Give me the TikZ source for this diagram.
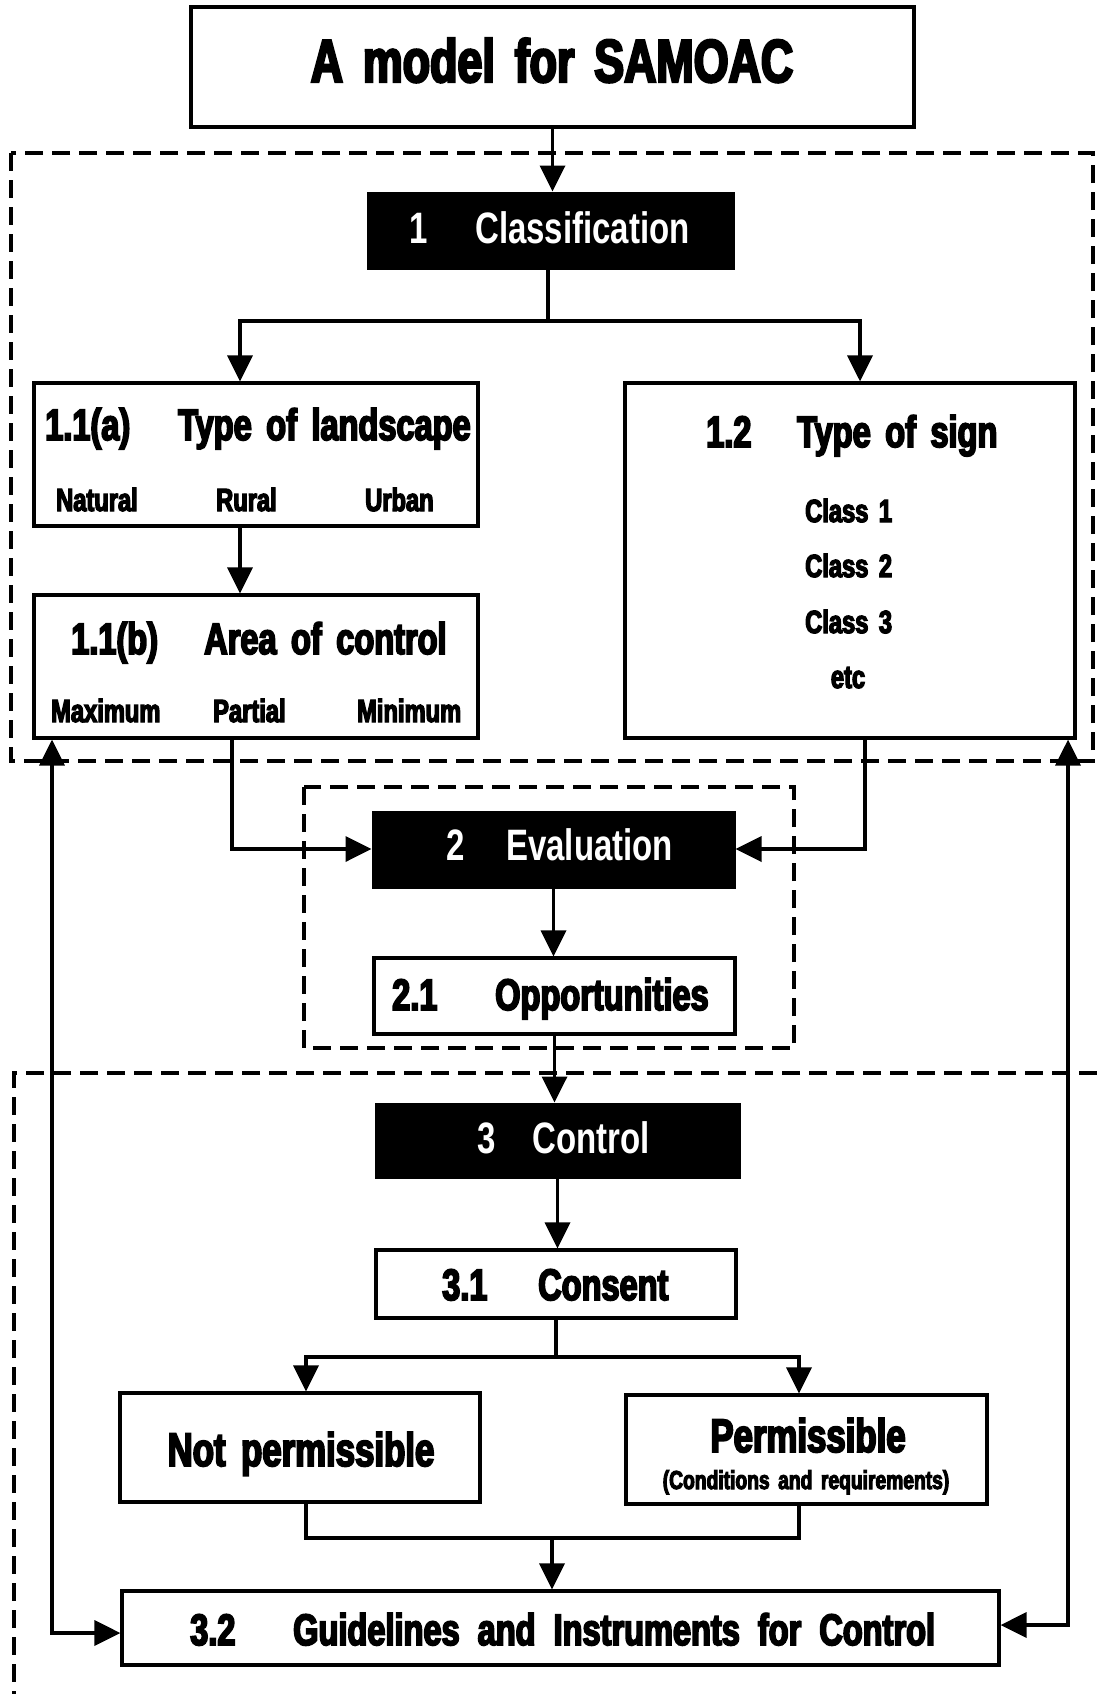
\documentclass[tikz,border=0pt]{standalone}
\usepackage{fontspec}
\usetikzlibrary{arrows.meta}
\newfontfamily\cfw{Liberation Sans Bold}[FakeStretch=0.75, WordSpace=1.5]
\newfontfamily\cfb{Liberation Sans Bold}[FakeStretch=0.74, FakeBold=4, WordSpace=1.6]
\newcommand\fT{\fontsize{60.5}{70}\selectfont}
\newcommand\fH{\fontsize{44}{50}\selectfont}
\newcommand\fS{\fontsize{32}{36}\selectfont}
\newcommand\fN{\fontsize{47}{52}\selectfont}
\newcommand\fC{\fontsize{26}{30}\selectfont}
\tikzset{
  ln/.style={line width=3.6pt},
  arr/.style={ln, -{Triangle[length=26pt,width=25pt]}},
  both/.style={ln, {Triangle[length=26pt,width=25pt]}-{Triangle[length=26pt,width=25pt]}},
  box/.style={draw, fill=white, line width=3.2pt, inner sep=0pt},
  blk/.style={draw, fill=black, line width=3pt, inner sep=0pt},
  dsh/.style={line width=3.4pt, dash pattern=on 18pt off 9pt},
  tx/.style={anchor=base west, inner sep=0pt, font=\cfb},
  tc/.style={anchor=base, inner sep=0pt, font=\cfb},
  tw/.style={anchor=base west, inner sep=0pt, font=\cfw, text=white},
}
\begin{document}
\begin{tikzpicture}[x=1pt,y=-1pt]
\useasboundingbox (0,0) rectangle (1097,1694);
\fill[white] (0,0) rectangle (1097,1694);

% dashed groups
\draw[dsh] (11,153) rectangle (1093,761);
\draw[dsh] (304,787) rectangle (794,1048);
\draw[dsh] (1097,1073) -- (14,1073) -- (14,1694);

% boxes
\node[box, minimum width=723pt, minimum height=120pt] (title) at (552.5,67) {};
\node[blk, minimum width=365pt, minimum height=75pt] (cls) at (550.5,230.5) {};
\node[box, minimum width=444pt, minimum height=143pt] (la) at (256,454.5) {};
\node[box, minimum width=450pt, minimum height=355pt] (ts) at (850,560.5) {};
\node[box, minimum width=444pt, minimum height=143pt] (lb) at (256,666.5) {};
\node[blk, minimum width=361pt, minimum height=75pt] (ev) at (553.5,849.5) {};
\node[box, minimum width=361pt, minimum height=76pt] (op) at (554.5,996) {};
\node[blk, minimum width=363pt, minimum height=73pt] (ct) at (557.5,1140.5) {};
\node[box, minimum width=360pt, minimum height=68pt] (cs) at (556,1284) {};
\node[box, minimum width=360pt, minimum height=109pt] (np) at (300,1447.5) {};
\node[box, minimum width=361pt, minimum height=109pt] (pm) at (806.5,1449.5) {};
\node[box, minimum width=877pt, minimum height=74pt] (gi) at (560.5,1628) {};

% texts
\node[tc] (ttlT) at (552,82) {\fT A model for SAMOAC};
\node[tw] (clsN) at (409,243) {\fH 1};
\node[tw] (clsT) at (475,243) {\fH Classification};
\node[tx] (laN) at (45,440) {\fH 1.1(a)};
\node[tx] (laT) at (178,440) {\fH Type of landscape};
\node[tx] (la1) at (56,511) {\fS Natural};
\node[tx] (la2) at (216,511) {\fS Rural};
\node[tx] (la3) at (365,511) {\fS Urban};
\node[tx] (tsN) at (706,447) {\fH 1.2};
\node[tx] (tsT) at (797,447) {\fH Type of sign};
\node[tx] (ts1) at (805,522) {\fS Class 1};
\node[tx] (ts2) at (805,577) {\fS Class 2};
\node[tx] (ts3) at (805,633) {\fS Class 3};
\node[tc] (ts4) at (848,688) {\fS etc};
\node[tx] (lbN) at (71,654) {\fH 1.1(b)};
\node[tx] (lbT) at (204,654) {\fH Area of control};
\node[tx] (lb1) at (51,722) {\fS Maximum};
\node[tx] (lb2) at (213,722) {\fS Partial};
\node[tx] (lb3) at (357,722) {\fS Minimum};
\node[tw] (evN) at (446,860) {\fH 2};
\node[tw] (evT) at (506,860) {\fH Evaluation};
\node[tx] (opN) at (392,1010) {\fH 2.1};
\node[tx] (opT) at (495,1010) {\fH Opportunities};
\node[tw] (ctN) at (477,1153) {\fH 3};
\node[tw] (ctT) at (532,1153) {\fH Control};
\node[tx] (csN) at (442,1300) {\fH 3.1};
\node[tx] (csT) at (538,1300) {\fH Consent};
\node[tc] (npT) at (301,1466) {\fN Not permissible};
\node[tc] (pmT) at (808,1452) {\fN Permissible};
\node[tc] (pmC) at (806,1489) {\fC (Conditions and requirements)};
\node[tx] (giN) at (190,1645) {\fH 3.2};
\node[tx] (giT) at (293,1645) {\fH\spaceskip=18pt Guidelines and Instruments for Control};

% connectors
\draw[arr] (title.south) -- (title.south |- cls.north);
\coordinate (jC) at (548,321);
\coordinate (jL) at (240,321);
\coordinate (jR) at (860,321);
\draw[ln] (cls.south -| jC) -- (jC);
\draw[arr] (jC) -- (jL) -- (jL |- la.north);
\draw[arr] (jC) -- (jR) -- (jR |- ts.north);
\draw[arr] (jL |- la.south) -- (jL |- lb.north);
\coordinate (pL) at (232,849);
\coordinate (pR) at (865,849);
\draw[arr] (pL |- lb.south) -- (pL) -- (ev.west |- pL);
\draw[arr] (pR |- ts.south) -- (pR) -- (ev.east |- pR);
\draw[arr] (ev.south) -- (ev.south |- op.north);
\draw[arr] (op.south) -- (op.south |- ct.north);
\draw[arr] (ct.south) -- (ct.south |- cs.north);
\coordinate (kC) at (556,1357);
\coordinate (kL) at (306,1357);
\coordinate (kR) at (799,1357);
\draw[ln] (cs.south) -- (cs.south |- kC);
\draw[arr] (kC) -- (kL) -- (kL |- np.north);
\draw[arr] (kC) -- (kR) -- (kR |- pm.north);
\coordinate (mL) at (306,1538);
\coordinate (mR) at (799,1538);
\coordinate (mC) at (552,1538);
\draw[ln] (mL |- np.south) -- (mL) -- (mR) -- (mR |- pm.south);
\draw[arr] (mC) -- (mC |- gi.north);
\coordinate (fL) at (52,1633);
\coordinate (fR) at (1068,1625);
\draw[both] (fL |- lb.south) -- (fL) -- (gi.west |- fL);
\draw[both] (fR |- ts.south) -- (fR) -- (gi.east |- fR);
\end{tikzpicture}
\end{document}
